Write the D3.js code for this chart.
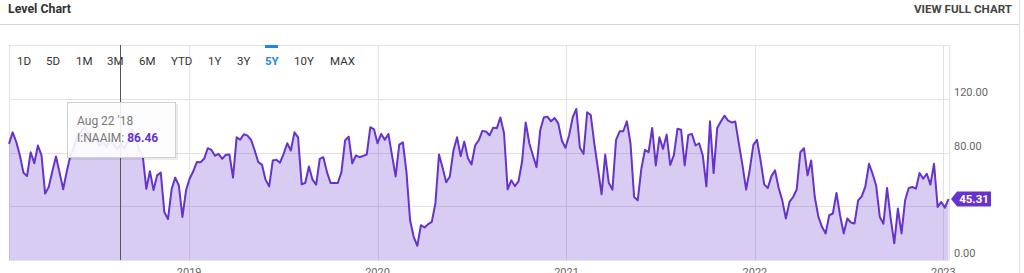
<!DOCTYPE html>
<html>
<head>
<meta charset="utf-8">
<style>
body { margin: 0; background: #fff; }
svg { display: block; font-family: Roboto, "Noto Sans", sans-serif; }
.grid line { stroke: #e2e2e2; shape-rendering: crispEdges; }
.range text { font-size: 11.5px; fill: #333; }
.ylab { font-size: 11px; fill: #666; }
.xlab { font-size: 11px; fill: #666; text-anchor: middle; }
</style>
</head>
<body>
<svg id="chart" width="1024" height="273"></svg>
<script src="https://d3js.org/d3.v7.min.js"></script>
<script>

// weekly NAAIM exposure readings, starting Wed 2018-01-17
var firstWeek = "2018-01-17";
var naaim = [
  86.4, 95, 88, 78, 65, 62.5, 80.2, 72, 85.2, 77.8, 49.4, 54.3, 66, 77, 65, 52.6, 66, 77.8,
  84, 92, 96, 98.8, 93.8, 88, 92, 85, 88, 84, 90, 86, 82.7, 86.46, 82.7, 90, 97.5, 92, 81.5,
  77.8, 53, 66, 52, 63, 65, 35.5, 30.5, 52.6, 61.3,
  55.6, 32, 51.9, 60.7, 66, 73, 72.8, 75.3, 83.2, 82,
  77.6, 79, 75.3, 78.3, 78.5, 61.3, 91.3, 89.6, 93.6, 92.6,
  89.4, 81.5, 72.8, 71, 59.8, 54.8, 74, 74.6, 72.4, 79,
  86.9, 81.5, 95, 91.3, 56.3, 57.5, 69.6, 59.8, 56.1, 75.3,
  76.5, 65.4, 57.3, 57.3, 57.3, 65.4, 88.9, 91.8, 72, 77.8,
  76.5, 77.5, 78.5, 98.8, 97.3, 86.9, 93.8, 89.6, 93.8, 77.8,
  62.2, 85.9, 87.6, 65.4, 29.6, 17.3, 10.6, 25.9, 24.2, 26.7,
  28.4, 42, 78.5, 68.6, 57.9, 62.2, 81.5, 91.3, 77.3, 88.1,
  75.8, 71.1, 85.2, 89.1, 96.1, 95.6, 92.8, 98.5, 98, 106.1,
  94.3, 52.6, 59.3, 55, 58.5, 73.3, 102.4, 86.9, 77.8, 69.1,
  96.3, 106.1, 106.7, 103.2, 105.7, 101.7, 88.9, 83.5, 92.6, 106.1,
  112.4, 83.5, 79, 109.9, 107.9, 86.4, 67.9, 48.9, 78.5, 57.3,
  52.4, 89.4, 95.8, 95.8, 103.2, 86.9, 46.9, 44.4, 67.9, 82,
  80.2, 98.3, 70.4, 91.3, 82.7, 93.3, 70.7, 78, 97.6, 97,
  70.4, 93.1, 93.8, 85.2, 86.9, 77.8, 54.8, 103.2, 64.7, 98.3,
  103, 107.4, 103.7, 102.4, 103, 86.4, 70.4, 52.4, 67.2, 85.7,
  89.4, 74.1, 56.3, 53.6, 62.4, 66.7, 53.6, 44.4, 30.9, 43.2,
  46.9, 52.6, 80.2, 83.2, 63, 74.1, 46.9, 32.1, 24.7, 19.8,
  33.3, 34.6, 49.9, 33.3, 19.8, 30.9, 27.9, 27.2, 44.4, 47.4,
  54.8, 71.6, 64.2, 55, 32, 27, 53.6, 31, 12.4, 38.3,
  19.8, 44.4, 53.6, 54.3, 53.1, 64.7, 60.5, 64.2, 56.1, 71.6,
  39.5, 43.2, 39, 45.31
];
var yTicks = [0, 40, 80, 120];
var yTickLabels = ["0.00", "40.00", "80.00", "120.00"];
var yearTicks = ["2019", "2020", "2021", "2022", "2023"];
var ranges = ["1D", "5D", "1M", "3M", "6M", "YTD", "1Y", "3Y", "5Y", "10Y", "MAX"];
var activeRange = "5Y";
var hoverDate = "2018-08-22";

var parse = d3.timeParse("%Y-%m-%d");
var start = parse(firstWeek);
var data = naaim.map((v, i) => ({ date: d3.timeWeek.offset(start, i), value: v }));
var last = data[data.length - 1];

var plotL = 9, plotR = 949, plotT = 45, plotB = 260;
var purple = "#6633cc";

var x = d3.scaleTime()
  .domain([start, d3.timeDay.offset(last.date, 1)])
  .range([plotL, plotR]);
var y = d3.scaleLinear().domain([0, 160]).range([plotB, plotT]);

var svg = d3.select("#chart");

// header
svg.append("text").attr("x", 8).attr("y", 13)
  .attr("textLength", 63).attr("lengthAdjust", "spacingAndGlyphs")
  .style("font-size", "13px").style("font-weight", "bold").style("fill", "#333")
  .text("Level Chart");
svg.append("text").attr("x", 914).attr("y", 13)
  .attr("textLength", 98).attr("lengthAdjust", "spacingAndGlyphs")
  .style("font-size", "11px").style("font-weight", "bold").style("fill", "#444")
  .text("VIEW FULL CHART");
svg.append("line").attr("x1", 0).attr("x2", 1020).attr("y1", 24.5).attr("y2", 24.5)
  .attr("stroke", "#d4d4d4");
svg.append("line").attr("x1", 1019.5).attr("x2", 1019.5).attr("y1", 0).attr("y2", 273)
  .attr("stroke", "#dedede");

// grid
var grid = svg.append("g").attr("class", "grid");
grid.selectAll(".h").data(yTicks.concat([160])).enter().append("line")
  .attr("x1", plotL).attr("x2", plotR)
  .attr("y1", d => Math.round(y(d)) + 0.5).attr("y2", d => Math.round(y(d)) + 0.5);
grid.selectAll(".v").data(yearTicks).enter().append("line")
  .attr("x1", d => Math.round(x(parse(d + "-01-01"))) + 0.5)
  .attr("x2", d => Math.round(x(parse(d + "-01-01"))) + 0.5)
  .attr("y1", plotT).attr("y2", plotB);
grid.selectAll(".b").data([plotL, plotR]).enter().append("line")
  .attr("x1", d => d + 0.5).attr("x2", d => d + 0.5)
  .attr("y1", plotT).attr("y2", plotB);

// area + line
svg.append("path").datum(data)
  .attr("fill", purple).attr("fill-opacity", 0.25)
  .attr("d", d3.area().x(d => x(d.date)).y0(y(0)).y1(d => y(d.value)));
svg.append("path").datum(data)
  .attr("fill", "none").attr("stroke", purple).attr("stroke-width", 2)
  .attr("stroke-linejoin", "round")
  .attr("d", d3.line().x(d => x(d.date)).y(d => y(d.value)));

// last value marker position; y labels hidden behind it are skipped
var ly = y(last.value);

// axis labels
svg.selectAll(".ylab").data(yTicks.filter(d => Math.abs(y(d) - 3 - ly) > 12)).enter().append("text")
  .attr("class", "ylab").attr("x", 954).attr("y", d => y(d) - 3)
  .text(d => yTickLabels[yTicks.indexOf(d)]);
svg.selectAll(".xlab").data(yearTicks).enter().append("text")
  .attr("class", "xlab")
  .attr("x", d => x(parse(d + "-01-01")))
  .attr("y", 276)
  .text(d => d);

// range selector
var rangeX = [17, 46, 76, 107, 139, 171, 208, 237, 265, 294, 330];
var rg = svg.append("g").attr("class", "range");
rg.selectAll("text").data(ranges).enter().append("text")
  .attr("x", (d, i) => rangeX[i]).attr("y", 65)
  .style("fill", d => d === activeRange ? "#1e88e5" : "#333")
  .style("font-weight", d => d === activeRange ? "bold" : "normal")
  .text(d => d);
rg.append("rect").attr("x", rangeX[ranges.indexOf(activeRange)]).attr("y", plotT)
  .attr("width", 13).attr("height", 3).attr("fill", "#1e88e5");

// crosshair + tooltip
var hov = data.find(d => +d.date === +parse(hoverDate));
var hx = Math.round(x(hov.date)) - 0.5;
svg.append("line").attr("x1", hx).attr("x2", hx).attr("y1", plotT).attr("y2", plotB)
  .attr("stroke", "#555");

var tip = svg.append("g").attr("transform", "translate(67,102)");
tip.append("rect").attr("x", 2).attr("y", 2).attr("width", 109).attr("height", 56)
  .attr("fill", "#000").attr("opacity", 0.08);
tip.append("rect").attr("x", 0.5).attr("y", 0.5).attr("width", 108).attr("height", 55)
  .attr("fill", "#fff").attr("fill-opacity", 0.9).attr("stroke", "#cfcfcf");
tip.append("text").attr("x", 10).attr("y", 23)
  .style("font-size", "12px").style("fill", "#777")
  .text(d3.timeFormat("%b %-d '%y")(hov.date));
var t2 = tip.append("text").attr("x", 10).attr("y", 40).style("font-size", "12px");
t2.append("tspan").style("fill", "#777").text("I:NAAIM: ");
t2.append("tspan").style("fill", purple).style("font-weight", "bold")
  .text(d3.format(".2f")(hov.value));

// last value marker
svg.append("path")
  .attr("d", `M951,${ly} L957,${ly - 7.5} L991,${ly - 7.5} L991,${ly + 7.5} L957,${ly + 7.5} Z`)
  .attr("fill", purple);
svg.append("text").attr("x", 974).attr("y", ly + 4)
  .attr("text-anchor", "middle")
  .style("font-size", "11.5px").style("font-weight", "bold").style("fill", "#fff")
  .text(d3.format(".2f")(last.value));

</script>
</body>
</html>
